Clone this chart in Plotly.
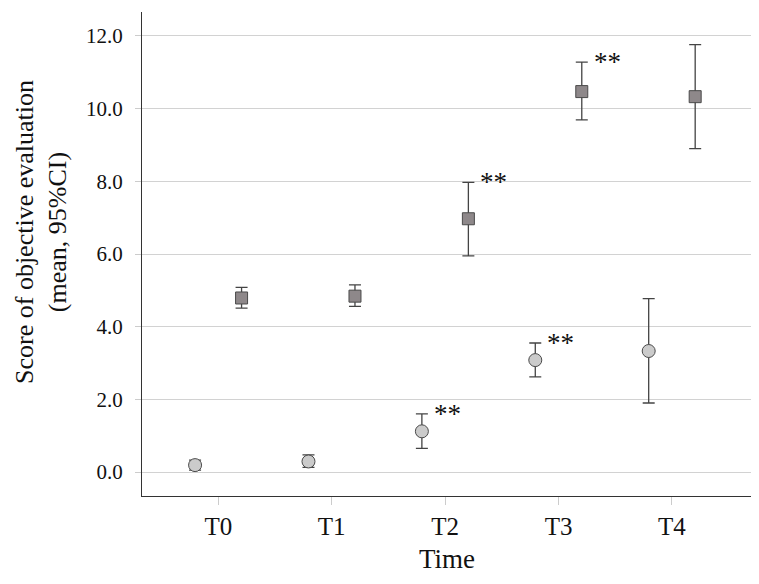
import plotly.graph_objects as go

categories = ["T0", "T1", "T2", "T3", "T4"]

# Group 1 (circles)
circle_mean = [0.19, 0.29, 1.12, 3.08, 3.33]
circle_lo = [0.05, 0.13, 0.65, 2.62, 1.90]
circle_hi = [0.33, 0.47, 1.60, 3.55, 4.77]
circle_sig = ["", "", "**", "**", ""]

# Group 2 (squares)
square_mean = [4.79, 4.84, 6.97, 10.47, 10.33]
square_lo = [4.51, 4.56, 5.95, 9.69, 8.90]
square_hi = [5.08, 5.15, 7.97, 11.28, 11.76]
square_sig = ["", "", "**", "**", ""]

yticks = [0, 2, 4, 6, 8, 10, 12]

off = 0.205
xc = [i - off for i in range(len(categories))]
xs = [i + off for i in range(len(categories))]

FONT = "Liberation Serif, Times New Roman, serif"
fig = go.Figure()

fig.add_trace(go.Scatter(
    x=xc, y=circle_mean, mode="markers",
    marker=dict(symbol="circle", size=13, color="#cbcbcb", line=dict(color="#4a4a4a", width=1)),
    error_y=dict(type="data", symmetric=False,
                 array=[h - m for h, m in zip(circle_hi, circle_mean)],
                 arrayminus=[m - l for m, l in zip(circle_mean, circle_lo)],
                 color="#444444", thickness=1.3, width=6),
    showlegend=False))

fig.add_trace(go.Scatter(
    x=xs, y=square_mean, mode="markers",
    marker=dict(symbol="square", size=12, color="#8e888a", line=dict(color="#4a4a4a", width=1)),
    error_y=dict(type="data", symmetric=False,
                 array=[h - m for h, m in zip(square_hi, square_mean)],
                 arrayminus=[m - l for m, l in zip(square_mean, square_lo)],
                 color="#444444", thickness=1.3, width=6),
    showlegend=False))

for x, y, s in list(zip(xc, circle_hi, circle_sig)) + list(zip(xs, square_hi, square_sig)):
    if s:
        fig.add_annotation(x=x, y=y, text=s, showarrow=False, xanchor="left", yanchor="middle",
                           xshift=10, yshift=0, font=dict(family=FONT, size=27, color="#111111"))

# y-axis title (placed as rotated annotation, slightly above plot centre as in the original)
fig.add_annotation(xref="paper", yref="paper", x=-0.166, y=0.545,
                   text="Score of objective evaluation<br>(mean, 95%CI)", textangle=-90,
                   showarrow=False, xanchor="center", yanchor="middle",
                   font=dict(family=FONT, size=26, color="#111111"))

fig.update_layout(
    width=759, height=584,
    margin=dict(l=134, r=15, t=4, b=96),
    plot_bgcolor="white", paper_bgcolor="white",
    font=dict(family=FONT, color="#111111"),
)
fig.update_xaxes(
    range=[-0.673, 4.706], tickvals=list(range(len(categories))), ticktext=categories,
    showgrid=False, zeroline=False,
    showline=True, linecolor="#333", linewidth=1,
    ticks="outside", ticklen=8, tickcolor="#cccccc",
    tickfont=dict(family=FONT, size=25),
    title=dict(text="Time", font=dict(family=FONT, size=27), standoff=10),
)
fig.update_yaxes(
    range=[-0.66, 12.66], tickvals=yticks, ticktext=[f"{v:.1f}" for v in yticks],
    showgrid=True, gridcolor="#d2d2d2", gridwidth=1.3, zeroline=False,
    showline=True, linecolor="#333", linewidth=1,
    ticks="outside", ticklen=6, tickcolor="#cccccc", ticklabelstandoff=8,
    tickfont=dict(family=FONT, size=21),
)

fig.write_html("out.html")
